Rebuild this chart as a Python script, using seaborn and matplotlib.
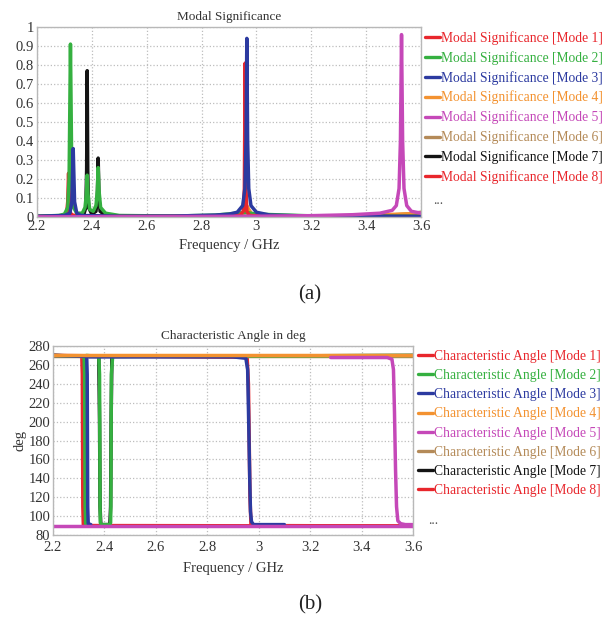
import numpy as np
import pandas as pd
import matplotlib
matplotlib.use("Agg")
import matplotlib.pyplot as plt
from matplotlib.lines import Line2D
import seaborn as sns

# ---------------- data ----------------
modes = ["Mode 1", "Mode 2", "Mode 3", "Mode 4", "Mode 5", "Mode 6", "Mode 7", "Mode 8"]
mode_colors = ["#e8262c", "#35b040", "#2c3aa0", "#f39230", "#c548b8", "#b48a58", "#141414", "#e8262c"]

x_ticks = [2.2, 2.4, 2.6, 2.8, 3.0, 3.2, 3.4, 3.6]
x_ticklabels = ["2.2", "2.4", "2.6", "2.8", "3", "3.2", "3.4", "3.6"]
ms_yticks = [0, 0.1, 0.2, 0.3, 0.4, 0.5, 0.6, 0.7, 0.8, 0.9, 1.0]
ms_yticklabels = ["0", "0.1", "0.2", "0.3", "0.4", "0.5", "0.6", "0.7", "0.8", "0.9", "1"]
ca_yticks = [80, 100, 120, 140, 160, 180, 200, 220, 240, 260, 280]
ca_yticklabels = [str(v) for v in ca_yticks]

# Modal significance (frequency GHz, value)
ms_f1 = [2.2, 2.28, 2.30, 2.308, 2.312, 2.315, 2.318, 2.322, 2.33, 2.36, 2.5, 2.8, 3.2, 3.6]
ms_v1 = [0.003, 0.005, 0.008, 0.02, 0.08, 0.23, 0.08, 0.02, 0.01, 0.005, 0.003, 0.003, 0.003, 0.003]
ms_f2 = [2.2, 2.28, 2.30, 2.312, 2.317, 2.322, 2.327, 2.333, 2.345, 2.365, 2.375, 2.380, 2.383,
         2.386, 2.392, 2.405, 2.415, 2.420, 2.423, 2.426, 2.432, 2.45, 2.5, 2.7, 2.85, 2.93,
         2.96, 3.0, 3.2, 3.6]
ms_v2 = [0.004, 0.008, 0.015, 0.05, 0.2, 0.91, 0.2, 0.05, 0.02, 0.02, 0.05, 0.12, 0.22,
         0.12, 0.04, 0.03, 0.06, 0.14, 0.26, 0.14, 0.05, 0.02, 0.008, 0.005, 0.01, 0.02,
         0.025, 0.015, 0.006, 0.004]
ms_f3 = [2.2, 2.30, 2.32, 2.327, 2.332, 2.337, 2.345, 2.36, 2.5, 2.7, 2.85, 2.9, 2.93, 2.95,
         2.958, 2.962, 2.965, 2.968, 2.972, 2.98, 3.0, 3.05, 3.2, 3.6]
ms_v3 = [0.004, 0.008, 0.02, 0.08, 0.36, 0.08, 0.02, 0.008, 0.004, 0.005, 0.01, 0.015, 0.025,
         0.06, 0.15, 0.4, 0.94, 0.4, 0.15, 0.06, 0.025, 0.01, 0.005, 0.003]
ms_f4 = [2.2, 2.6, 2.9, 2.95, 2.962, 2.967, 2.972, 2.985, 3.1, 3.4, 3.6]
ms_v4 = [0.002, 0.002, 0.005, 0.015, 0.04, 0.055, 0.04, 0.012, 0.004, 0.008, 0.02]
ms_f5 = [2.2, 2.6, 3.0, 3.2, 3.35, 3.45, 3.495, 3.51, 3.52, 3.525, 3.529, 3.533, 3.538,
         3.548, 3.565, 3.6]
ms_v5 = [0.001, 0.002, 0.004, 0.007, 0.012, 0.02, 0.035, 0.06, 0.15, 0.4, 0.96, 0.4, 0.15,
         0.06, 0.03, 0.02]
ms_f6 = [2.2, 2.8, 3.2, 3.45, 3.55, 3.6]
ms_v6 = [0.001, 0.002, 0.004, 0.008, 0.015, 0.025]
ms_f7 = [2.2, 2.35, 2.37, 2.378, 2.381, 2.383, 2.385, 2.388, 2.40, 2.415, 2.420, 2.423,
         2.426, 2.43, 2.45, 2.6, 3.6]
ms_v7 = [0.002, 0.004, 0.01, 0.05, 0.25, 0.77, 0.25, 0.05, 0.015, 0.03, 0.1, 0.31, 0.1,
         0.03, 0.008, 0.003, 0.002]
ms_f8 = [2.2, 2.8, 2.94, 2.952, 2.956, 2.959, 2.962, 2.965, 2.975, 3.1, 3.6]
ms_v8 = [0.002, 0.003, 0.008, 0.03, 0.15, 0.81, 0.15, 0.03, 0.008, 0.003, 0.002]

# Characteristic angle (deg); each mode may consist of several traced segments
ca_f1 = [[2.2, 2.312, 2.314, 2.315, 2.316, 2.318, 3.6]]
ca_v1 = [[270, 269, 250, 180, 110, 90, 89.5]]
ca_f2 = [[2.2, 2.321, 2.323, 2.324, 2.325, 2.327, 2.337],
         [2.33, 2.378, 2.381, 2.382, 2.383, 2.384, 2.388, 2.421, 2.424, 2.425, 2.426, 2.427, 2.432, 3.6]]
ca_v2 = [[270, 269, 250, 180, 110, 92, 91],
         [270, 269, 250, 180, 110, 93, 91, 91, 93, 110, 180, 250, 269, 270]]
ca_f3 = [[2.2, 2.331, 2.333, 2.334, 2.335, 2.337, 2.347],
         [2.34, 2.90, 2.950, 2.957, 2.961, 2.965, 2.968, 2.972, 2.98, 3.1]]
ca_v3 = [[270, 269, 250, 180, 110, 92, 91],
         [268.5, 268.5, 267, 255, 200, 140, 105, 94, 91, 91]]
ca_f4 = [[2.2, 3.6]]
ca_v4 = [[270.5, 270.5]]
ca_f5 = [[2.2, 3.6],
         [3.28, 3.50, 3.518, 3.524, 3.528, 3.532, 3.536, 3.541, 3.552, 3.57, 3.6]]
ca_v5 = [[89.5, 89.5],
         [267.8, 267.8, 266, 255, 210, 150, 110, 95, 92, 91, 91]]
ca_f6 = [[2.2, 3.6]]
ca_v6 = [[269, 269]]
ca_f7 = [[2.2, 2.378, 2.381, 2.383, 2.386, 2.421, 2.424, 2.426, 2.429, 3.6]]
ca_v7 = [[270, 269, 200, 110, 91, 91, 110, 200, 269, 270]]
ca_f8 = [[2.2, 2.955, 2.960, 2.963, 2.966, 2.970, 3.6]]
ca_v8 = [[270, 268, 240, 180, 120, 90, 89.5]]

ms_f = [ms_f1, ms_f2, ms_f3, ms_f4, ms_f5, ms_f6, ms_f7, ms_f8]
ms_v = [ms_v1, ms_v2, ms_v3, ms_v4, ms_v5, ms_v6, ms_v7, ms_v8]
ca_f = [ca_f1, ca_f2, ca_f3, ca_f4, ca_f5, ca_f6, ca_f7, ca_f8]
ca_v = [ca_v1, ca_v2, ca_v3, ca_v4, ca_v5, ca_v6, ca_v7, ca_v8]

ms_draw_order = ["Mode 7", "Mode 6", "Mode 4", "Mode 1", "Mode 2", "Mode 8", "Mode 3", "Mode 5"]
ca_draw_order = ["Mode 7", "Mode 1", "Mode 8", "Mode 6", "Mode 2", "Mode 3", "Mode 4", "Mode 5"]

# ---------------- tables ----------------
rows = []
for m, fs, vs in zip(modes, ms_f, ms_v):
    for f, v in zip(fs, vs):
        rows.append((m, 0, f, v))
df_ms = pd.DataFrame(rows, columns=["mode", "seg", "freq", "val"])
rows = []
for m, segs_f, segs_v in zip(modes, ca_f, ca_v):
    for s, (fs, vs) in enumerate(zip(segs_f, segs_v)):
        for f, v in zip(fs, vs):
            rows.append((m, s, f, v))
df_ca = pd.DataFrame(rows, columns=["mode", "seg", "freq", "val"])

palette = dict(zip(modes, mode_colors))

# ---------------- style ----------------
sns.set_theme(style="whitegrid")
plt.rcParams["font.family"] = ["Liberation Serif", "DejaVu Serif"]
plt.rcParams["axes.edgecolor"] = "#b8b8b8"
plt.rcParams["text.color"] = "#222222"

fig = plt.figure(figsize=(6.07, 6.23), dpi=100)
W, H = 607, 623

def px_axes(l, t, r, b):
    return fig.add_axes([l / W, 1 - b / H, (r - l) / W, (b - t) / H])

ax1 = px_axes(37, 27, 421, 217)
ax2 = px_axes(53, 346, 413, 535)

sns.lineplot(data=df_ms, x="freq", y="val", hue="mode", hue_order=ms_draw_order,
             palette=palette, units="seg", estimator=None, sort=False,
             linewidth=2.5, legend=False, ax=ax1)
sns.lineplot(data=df_ca, x="freq", y="val", hue="mode", hue_order=ca_draw_order,
             palette=palette, units="seg", estimator=None, sort=False,
             linewidth=2.5, legend=False, ax=ax2)

for ax, yt, ytl, ylim, xpad, lpad in [(ax1, ms_yticks, ms_yticklabels, (0, 1), 2.0, 4.5),
                                      (ax2, ca_yticks, ca_yticklabels, (80, 280), 4.5, 5.5)]:
    ax.set_xlim(2.2, 3.6)
    ax.set_ylim(*ylim)
    ax.set_xticks(x_ticks)
    ax.set_xticklabels(x_ticklabels)
    ax.set_yticks(yt)
    ax.set_yticklabels(ytl)
    ax.grid(True, color="#bdbdbd", linestyle=":", linewidth=0.9)
    ax.tick_params(axis="y", length=0, pad=2.0, labelsize=10.5, colors="#333333")
    ax.tick_params(axis="x", length=0, pad=xpad, labelsize=10.5, colors="#333333")
    for sp in ax.spines.values():
        sp.set_color("#b8b8b8")
        sp.set_linewidth(1.0)
    ax.set_xlabel("Frequency / GHz", fontsize=10.5, color="#333333", labelpad=lpad)

ax1.set_ylabel("")
ax2.set_ylabel("deg", fontsize=10.5, color="#333333", labelpad=1)
ax1.set_title("Modal Significance", fontsize=9.5, color="#333333", pad=5)
ax2.set_title("Characteristic Angle in deg", fontsize=9.5, color="#333333", pad=5)

# legends
def make_legend(prefix, left_px, top_px):
    handles = [Line2D([0], [0], color=c, lw=2.4) for c in mode_colors]
    labels = [f"{prefix} [{m}]" for m in modes]
    leg = fig.legend(handles, labels, loc="upper left",
                     bbox_to_anchor=(left_px / W, 1 - top_px / H),
                     frameon=False, fontsize=9.8, handlelength=1.1,
                     handletextpad=0.05, labelspacing=0.45, borderaxespad=0,
                     borderpad=0, labelcolor=mode_colors)
    return leg

make_legend("Modal Significance", 425, 31)
make_legend("Characteristic Angle", 418, 350)
fig.text(433 / W, 1 - 200 / H, "...", fontsize=10, color="#555555", va="center")
fig.text(428 / W, 1 - 520 / H, "...", fontsize=10, color="#555555", va="center")

fig.text(310 / W, 1 - 295 / H, "(a)", fontsize=15, ha="center", va="center", color="#222222")
fig.text(310 / W, 1 - 605 / H, "(b)", fontsize=15, ha="center", va="center", color="#222222")

fig.savefig("out.png", dpi=100)
